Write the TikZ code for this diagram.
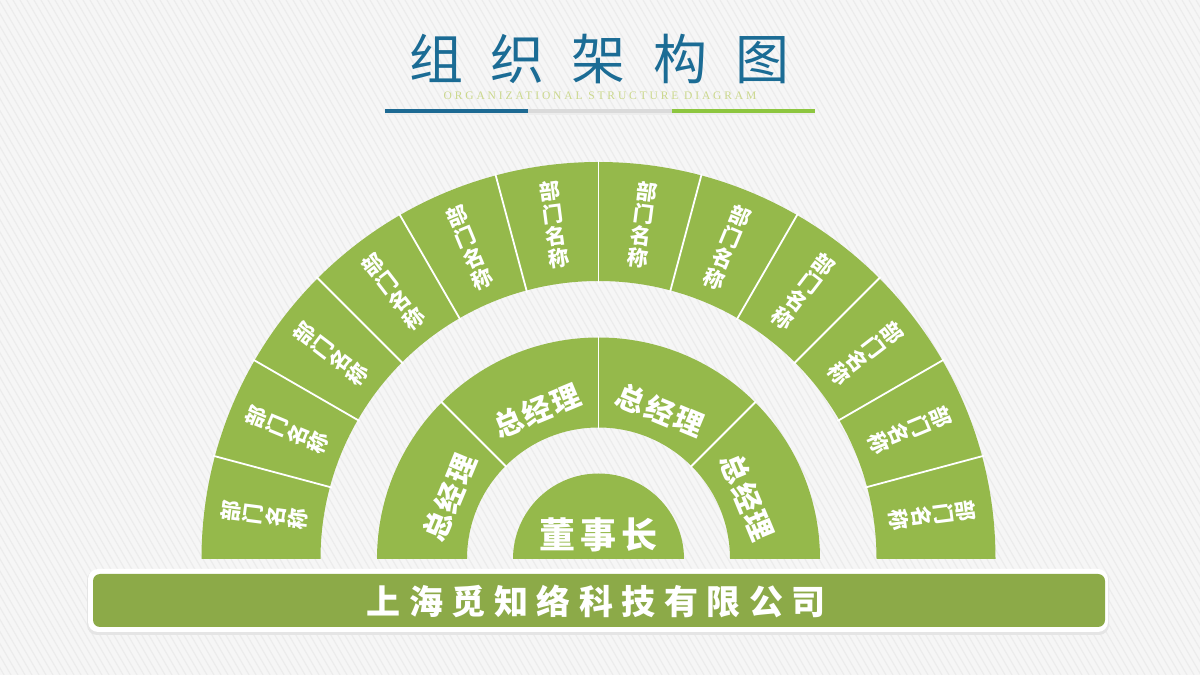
\documentclass[tikz,border=0pt]{standalone}
\usepackage{fontspec}
\setmainfont{Liberation Serif}
\newfontfamily\cjk{Noto Sans CJK SC}
\usetikzlibrary{calc}
\definecolor{bgc}{RGB}{246,246,246}
\definecolor{stripec}{RGB}{236,236,236}
\definecolor{segc}{RGB}{149,185,75}
\definecolor{barc}{RGB}{140,170,72}
\definecolor{titlec}{RGB}{27,108,149}
\definecolor{subc}{RGB}{203,216,140}
\definecolor{lineblue}{RGB}{29,106,147}
\definecolor{linegray}{RGB}{218,218,218}
\definecolor{linegreen}{RGB}{141,198,63}
\tikzset{
  segfill/.style={fill=segc},
  sepline/.style={draw=white,line width=1.8pt},
  outtxt/.style={text=white,inner sep=0pt,align=center,font=\cjk\bfseries\fontsize{21}{22.5}\selectfont},
  midtxt/.style={text=white,inner sep=0pt,font=\cjk\bfseries\fontsize{29}{30}\selectfont},
  chtxt/.style={text=white,inner sep=0pt,font=\cjk\bfseries\fontsize{36}{38}\selectfont},
  bartxt/.style={text=white,inner sep=0pt,font=\cjk\bfseries\fontsize{34}{36}\selectfont},
  titletxt/.style={text=titlec,inner sep=0pt,font=\cjk\fontsize{54}{56}\selectfont},
  subtxt/.style={text=subc,inner sep=0pt,font=\fontsize{11.5}{12}\selectfont\addfontfeature{LetterSpace=25}},
  stripe/.style={draw=stripec,line width=1.2pt}
}
\begin{document}
\begin{tikzpicture}[x=1pt,y=1pt]
\useasboundingbox (0,0) rectangle (1200,675);
\fill[bgc] (0,0) rectangle (1200,675);
\begin{scope}
  \clip (0,0) rectangle (1200,675);
  \foreach \i in {-400,-393,...,1200} \draw[stripe] (\i,675) -- ++(390,-675);
\end{scope}

% title
\node[titletxt] (title) at (599,616) {组\kern27.5pt织\kern27.5pt架\kern27.5pt构\kern27.5pt图};
\node[subtxt] (sub) at (600,579) {ORGANIZATIONAL STRUCTURE DIAGRAM};
\coordinate (u0) at (385,564);
\coordinate (u1) at (528,564);
\coordinate (u2) at (672,564);
\coordinate (u3) at (815,564);
\draw[black!7,line width=3pt] ($(u0)+(0,-3)$) -- ($(u3)+(0,-3)$);
\draw[lineblue,line width=4pt] (u0) -- (u1);
\draw[linegray,line width=4pt] (u1) -- (u2);
\draw[linegreen,line width=4pt] (u2) -- (u3);

% semicircles
\coordinate (C) at (598.5,116);
\fill[segfill] ($(C)+(0:85.5)$) arc[start angle=0,end angle=180,radius=85.5] -- cycle;
\fill[segfill] ($(C)+(0:221.5)$) arc[start angle=0,end angle=180,radius=221.5]
  -- ($(C)+(180:131.5)$) arc[start angle=180,end angle=0,radius=131.5] -- cycle;
\fill[segfill] ($(C)+(0:397)$) arc[start angle=0,end angle=180,radius=397]
  -- ($(C)+(180:278)$) arc[start angle=180,end angle=0,radius=278] -- cycle;
\foreach \a in {45,90,135} \draw[sepline] ($(C)+(\a:130)$) -- ($(C)+(\a:223)$);
\foreach \a in {15,30,...,165} \draw[sepline] ($(C)+(\a:276)$) -- ($(C)+(\a:399)$);

% labels
\node[chtxt] (chair) at ($(C)+(0,24)$) {董\kern5pt事\kern5pt长};
\foreach \i in {0,...,3} {
  \pgfmathsetmacro\a{22.5+45*\i}
  \node[midtxt,rotate=\a-90] (gm\i) at ($(C)+(\a:161)$) {总\kern2pt经\kern2pt理};
}
\foreach \i in {0,...,11} {
  \pgfmathsetmacro\a{7.5+15*\i}
  \node[outtxt,rotate=\a-90] (dept\i) at ($(C)+(\a:337)$) {部\\门\\名\\称};
}

% bottom bar
\fill[black!10,rounded corners=10pt] (87,40) rectangle (1109,105);
\fill[white,rounded corners=10pt] (88,43) rectangle (1108,106);
\fill[barc,rounded corners=7pt] (93,48) rectangle (1105,101);
\node[bartxt] (company) at (596,74) {上\kern8.5pt海\kern8.5pt觅\kern8.5pt知\kern8.5pt络\kern8.5pt科\kern8.5pt技\kern8.5pt有\kern8.5pt限\kern8.5pt公\kern8.5pt司};
\end{tikzpicture}
\end{document}
